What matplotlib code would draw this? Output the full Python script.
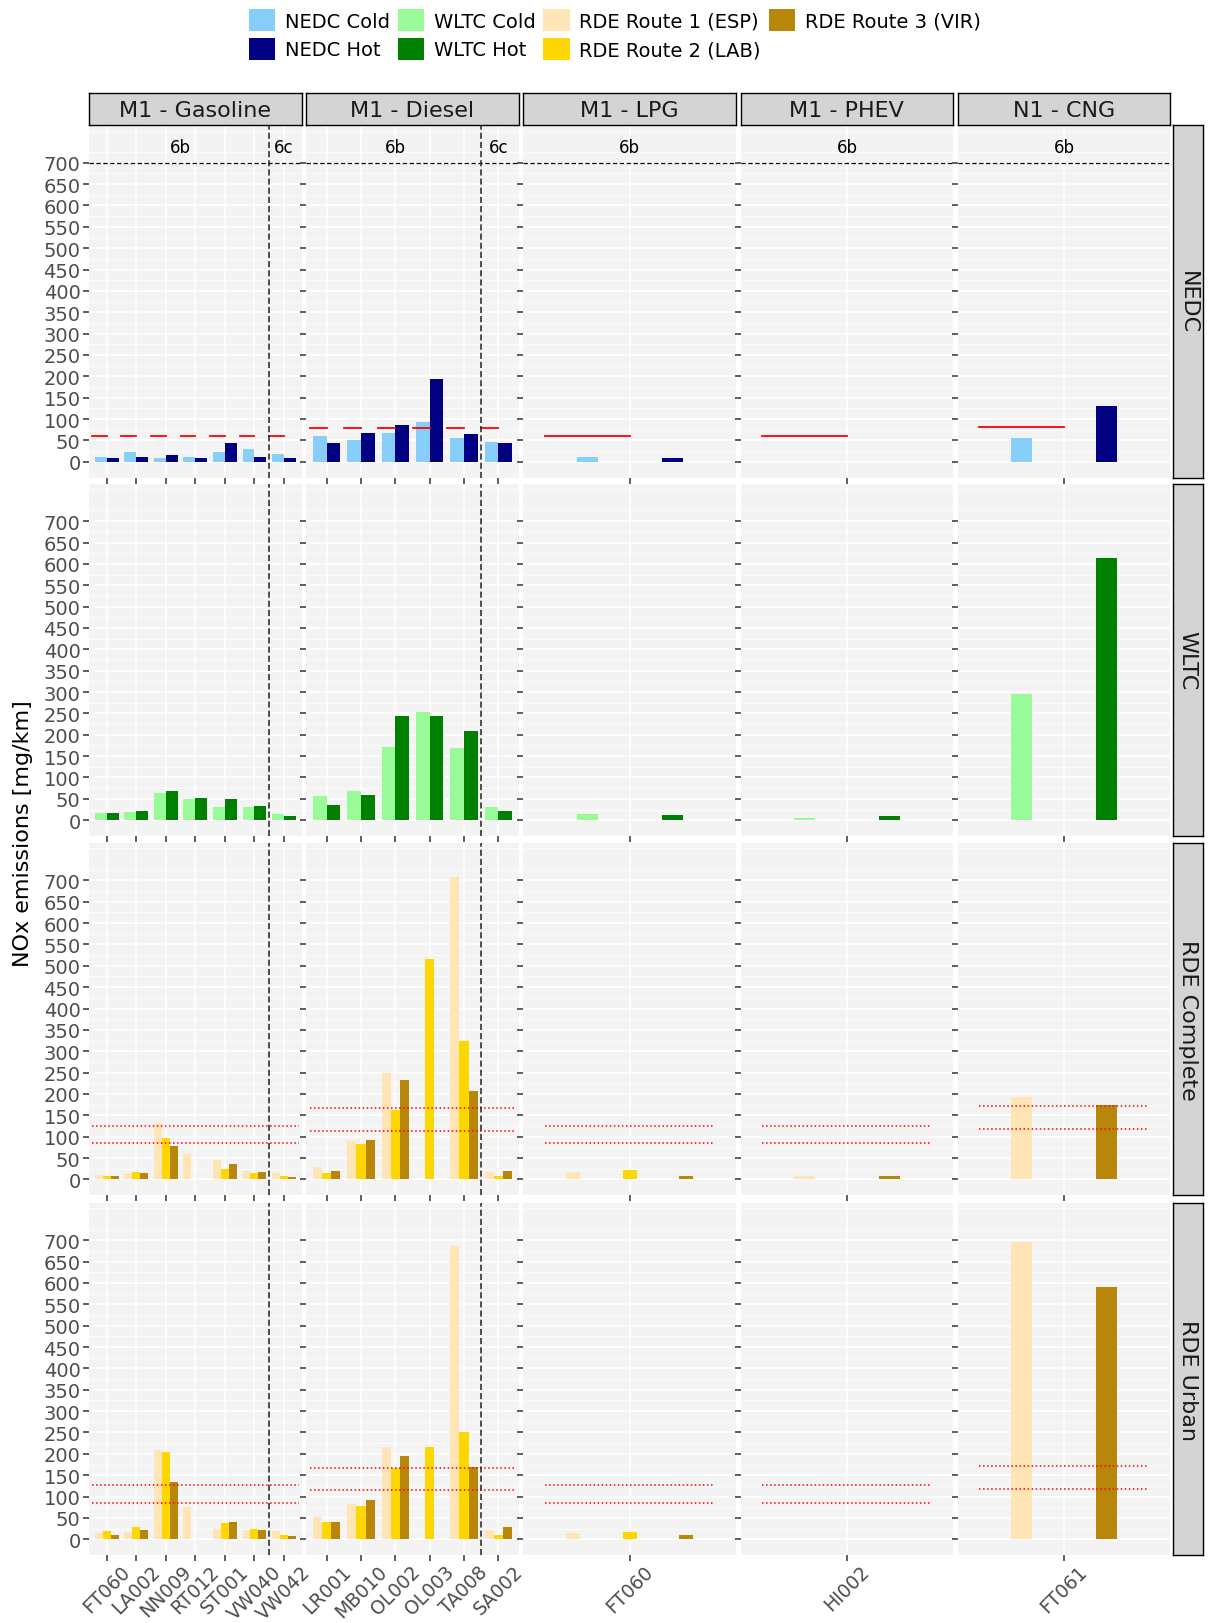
import numpy as np
import matplotlib.pyplot as plt
from matplotlib.patches import Patch

nan = np.nan

facets = ['M1 - Gasoline', 'M1 - Diesel', 'M1 - LPG', 'M1 - PHEV', 'N1 - CNG']
cycles = ['NEDC', 'WLTC', 'RDE Complete', 'RDE Urban']

gasoline_ids = ['FT060', 'LA002', 'NN009', 'RT012', 'ST001', 'VW040', 'VW042']
diesel_ids = ['LR001', 'MB010', 'OL002', 'OL003', 'TA008', 'SA002']
lpg_ids = ['FT060']
phev_ids = ['HI002']
cng_ids = ['FT061']
vehicle_ids = [gasoline_ids, diesel_ids, lpg_ids, phev_ids, cng_ids]

# euro class of each vehicle
euro_class = [['6b'] * 6 + ['6c'], ['6b'] * 5 + ['6c'], ['6b'], ['6b'], ['6b']]

# NEDC limit per facet [mg/km] and RDE conformity factors
nox_limit = [60, 80, 60, 60, 82]
conf_factors = [1.43, 2.1]

# NOx [mg/km], one list per facet
nedc_cold = [[12, 23, 10, 12, 23, 29, 18], [61, 50, 67, 92, 56, 47], [11], [nan], [56]]
nedc_hot = [[10, 12, 15, 8, 45, 12, 8], [45, 67, 86, 194, 64, 45], [9], [nan], [130]]
wltc_cold = [[16, 19, 63, 49, 30, 30, 14], [57, 69, 172, 254, 170, 30], [15], [6], [295]]
wltc_hot = [[16, 22, 68, 52, 49, 33, 9], [36, 58, 243, 243, 208, 22], [12], [10], [613]]
rdec_route1 = [[11, 14, 131, 60, 46, 19, 16], [30, 89, 249, nan, 709, 17], [17], [7], [192]]
rdec_route2 = [[8, 17, 98, nan, 25, 16, 8], [14, 82, 163, 515, 323, 8], [23], [nan], [nan]]
rdec_route3 = [[8, 14, 77, nan, 36, 17, 5], [19, 92, 233, nan, 206, 19], [9], [9], [173]]
rdeu_route1 = [[15, 17, 210, 76, 25, 22, 19], [52, 82, 217, nan, 686, 22], [15], [nan], [697]]
rdeu_route2 = [[19, 28, 204, nan, 38, 25, 11], [41, 79, 166, 215, 250, 11], [18], [nan], [nan]]
rdeu_route3 = [[11, 22, 133, nan, 41, 22, 8], [41, 92, 196, nan, 169, 28], [10], [nan], [590]]

rows = [
    [('NEDC Cold', nedc_cold), ('NEDC Hot', nedc_hot)],
    [('WLTC Cold', wltc_cold), ('WLTC Hot', wltc_hot)],
    [('RDE Route 1 (ESP)', rdec_route1), ('RDE Route 2 (LAB)', rdec_route2),
     ('RDE Route 3 (VIR)', rdec_route3)],
    [('RDE Route 1 (ESP)', rdeu_route1), ('RDE Route 2 (LAB)', rdeu_route2),
     ('RDE Route 3 (VIR)', rdeu_route3)],
]

colors = {
    'NEDC Cold': '#87CEFA', 'NEDC Hot': '#000080',
    'WLTC Cold': '#98FB98', 'WLTC Hot': '#008000',
    'RDE Route 1 (ESP)': '#FFE4B5', 'RDE Route 2 (LAB)': '#FFD700',
    'RDE Route 3 (VIR)': '#B8860B',
}

W, H = 1208, 1624
fig = plt.figure(figsize=(W / 100, H / 100), dpi=100)


def px_rect(x0, y0, w, h):
    return [x0 / W, 1 - (y0 + h) / H, w / W, h / H]


panel_left = 89
panel_w = 212.6
col_gap = 4.6
row_tops = [126.4, 484.8, 844.0, 1203.9]
panel_h = 352.4
strip_bg = '#D4D4D4'

for r, cyc in enumerate(cycles):
    for c, fac in enumerate(facets):
        x0 = panel_left + c * (panel_w + col_gap)
        ax = fig.add_axes(px_rect(x0, row_tops[r], panel_w, panel_h))
        ax.set_facecolor('#F3F3F3')
        for s in ax.spines.values():
            s.set_visible(False)
        ids = vehicle_ids[c]
        n = len(ids)
        pos = np.arange(1, n + 1)
        series = rows[r]

        # dodge the bars
        if n > 1:
            active = [lab for lab, v in series]
            dodge, bar_total = 0.8, 0.8
            ax.set_xlim(0.4, n + 0.6)
        else:
            active = [lab for lab, v in series if not np.all(np.isnan(v[c]))]
            dodge, bar_total = 1.0, 0.25
            ax.set_xlim(0.375, 1.625)
        k = max(len(active), 1)
        for lab, vals in series:
            if lab not in active:
                continue
            j = active.index(lab)
            off = (j - (k - 1) / 2) * dodge / k
            ax.bar(pos + off, vals[c], width=bar_total / k, color=colors[lab],
                   edgecolor='none', zorder=2)

        lim = nox_limit[c]
        if r == 0:
            for p in pos:
                ax.plot([p - 0.5, p], [lim, lim], color='red', lw=1.3, zorder=3)
            ax.axhline(700, color='black', ls=(0, (3.5, 2)), lw=0.9, zorder=3)
            classes = euro_class[c]
            for cl in ['6b', '6c']:
                idx = [i + 1 for i, e in enumerate(classes) if e == cl]
                if idx:
                    ax.text(np.mean(idx), 738, cl, ha='center', va='center',
                            fontsize=12, color='black')
        elif r >= 2:
            for cf in conf_factors:
                ax.plot([0.5, n + 0.5], [lim * cf] * 2, color='red', ls=':',
                        lw=1.1, zorder=3)

        if '6c' in euro_class[c]:
            ax.axvline(euro_class[c].index('6c') + 0.5, color='#222222',
                       ls=(0, (4, 2)), lw=1.1, zorder=3)

        ax.set_ylim(-37.5, 787.5)
        ax.set_yticks(np.arange(0, 701, 50))
        ax.set_yticks(np.arange(25, 800, 50), minor=True)
        ax.set_xticks(pos)
        ax.set_axisbelow(True)
        ax.grid(which='major', color='white', lw=1.1)
        ax.grid(which='minor', axis='y', color='white', lw=0.5)
        ax.tick_params(which='major', length=4, width=1.1, color='#333333',
                       labelsize=14, labelcolor='#4D4D4D', pad=2)
        ax.tick_params(axis='x', pad=0.5, labelsize=13.5)
        ax.tick_params(which='minor', length=0)
        if c > 0:
            ax.set_yticklabels([])
        if r == 3:
            ax.set_xticklabels(ids, rotation=45, ha='center', va='top')
        else:
            ax.set_xticklabels([])

        # top strips
        if r == 0:
            sax = fig.add_axes(px_rect(x0, 94, panel_w, 31.5))
            sax.set_facecolor(strip_bg)
            sax.set_xticks([])
            sax.set_yticks([])
            for s in sax.spines.values():
                s.set_linewidth(1.0)
            sax.text(0.5, 0.47, fac, ha='center', va='center', fontsize=16,
                     color='#1A1A1A', transform=sax.transAxes)

    # right strips
    rax = fig.add_axes(px_rect(1172.5, row_tops[r], 30.5, panel_h))
    rax.set_facecolor(strip_bg)
    rax.set_xticks([])
    rax.set_yticks([])
    for s in rax.spines.values():
        s.set_linewidth(1.0)
    rax.text(0.5, 0.5, cyc, ha='center', va='center', rotation=-90, fontsize=16,
             color='#1A1A1A', transform=rax.transAxes)

fig.text(23 / W, 1 - 834 / H, 'NOx emissions [mg/km]', rotation=90, ha='center',
         va='center', fontsize=16)

handles = [Patch(facecolor=col, edgecolor='none', label=lab) for lab, col in colors.items()]
fig.legend(handles=handles, loc='upper center', bbox_to_anchor=(0.509, 0.9985), ncol=4,
           frameon=False, fontsize=14, handlelength=1.35, handleheight=1.35,
           handletextpad=0.5, columnspacing=0.4, labelspacing=0.35, borderaxespad=0)

fig.savefig('out.png', dpi=100)
